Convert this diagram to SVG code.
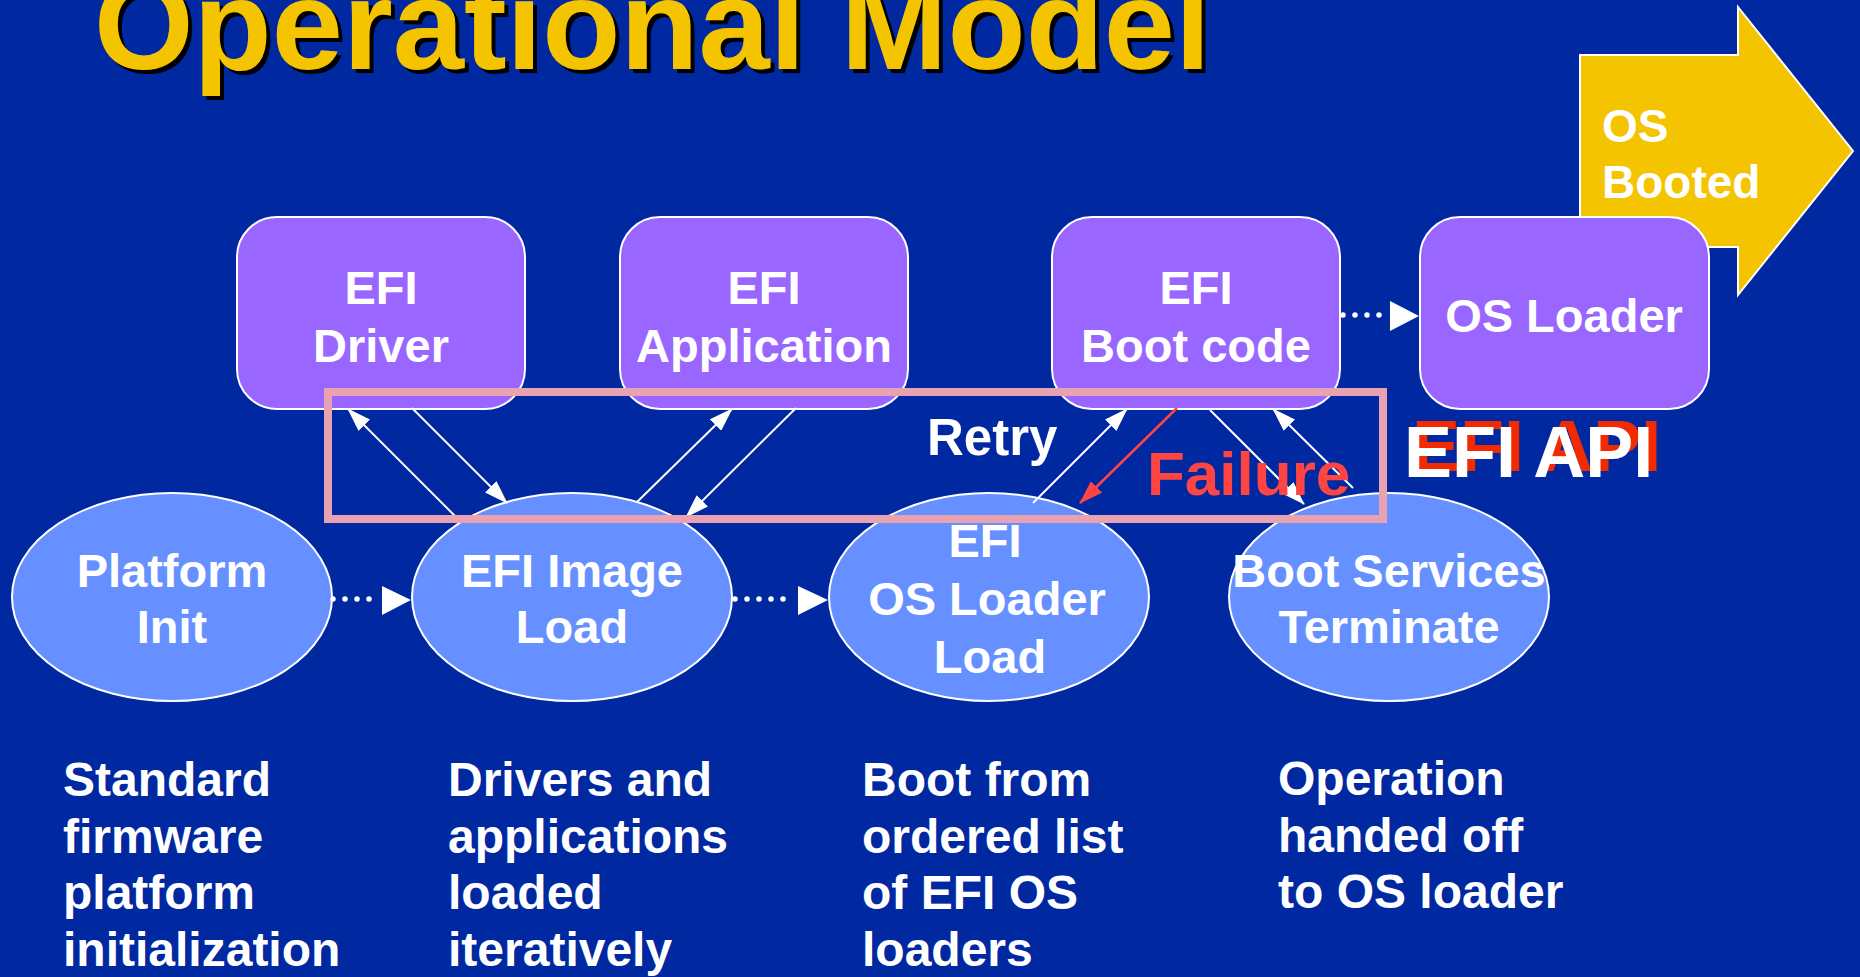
<svg xmlns="http://www.w3.org/2000/svg" width="1860" height="977" viewBox="0 0 1860 977">
  <defs>
    <style>
      .t { font-family: "Liberation Sans", Arial, sans-serif; font-weight: bold; fill: #FFFFFF; }
      .lbl { font-size: 47px; text-anchor: middle; }
      .note { font-size: 48px; }
      .box { fill: #9966FF; stroke: #FFFFFF; stroke-width: 2; }
      .oval { fill: #6690FF; stroke: #FFFFFF; stroke-width: 2; }
      .link { stroke: #FFFFFF; stroke-width: 2; fill: none; }
      .dots { stroke: #FFFFFF; stroke-width: 5.5; stroke-linecap: round; stroke-dasharray: 0 12; fill: none; }
    </style>
    <marker id="head" markerUnits="userSpaceOnUse" viewBox="0 0 24 16" refX="23" refY="8" markerWidth="24" markerHeight="16" orient="auto">
      <path d="M0,0 L24,8 L0,16 Z" fill="#FFFFFF"/>
    </marker>
    <marker id="headRed" markerUnits="userSpaceOnUse" viewBox="0 0 24 16" refX="23" refY="8" markerWidth="24" markerHeight="16" orient="auto">
      <path d="M0,0 L24,8 L0,16 Z" fill="#FF4444"/>
    </marker>
  </defs>

  <rect width="1860" height="977" fill="#0028A0"/>

  <!-- title with drop shadow -->
  <g id="title">
    <text x="98" y="73" font-family="Liberation Sans, Arial, sans-serif" font-weight="bold" font-size="128" fill="#000000">Operational Model</text>
    <text x="94" y="69" font-family="Liberation Sans, Arial, sans-serif" font-weight="bold" font-size="128" fill="#F5C400">Operational Model</text>
  </g>

  <!-- big block arrow behind the OS Loader box -->
  <g id="os-booted">
    <polygon points="1580,55 1738,55 1738,7 1853,151 1738,295 1738,247 1580,247" fill="#F5C400" stroke="#FFFFFF" stroke-width="2"/>
    <text class="t" x="1602" y="142" font-size="46">OS</text>
    <text class="t" x="1602" y="198" font-size="46">Booted</text>
  </g>

  <!-- upper row: EFI components -->
  <g id="efi-driver">
    <rect class="box" x="237" y="217" width="288" height="192" rx="40" ry="40"/>
    <text class="t lbl" x="381" y="304">EFI</text>
    <text class="t lbl" x="381" y="362">Driver</text>
  </g>
  <g id="efi-application">
    <rect class="box" x="620" y="217" width="288" height="192" rx="40" ry="40"/>
    <text class="t lbl" x="764" y="304">EFI</text>
    <text class="t lbl" x="764" y="362">Application</text>
  </g>
  <g id="efi-boot-code">
    <rect class="box" x="1052" y="217" width="288" height="192" rx="40" ry="40"/>
    <text class="t lbl" x="1196" y="304">EFI</text>
    <text class="t lbl" x="1196" y="362">Boot code</text>
  </g>
  <g id="os-loader">
    <rect class="box" x="1420" y="217" width="289" height="192" rx="40" ry="40"/>
    <text class="t lbl" x="1564" y="332">OS Loader</text>
  </g>

  <!-- lower row: boot phases -->
  <g id="platform-init">
    <ellipse class="oval" cx="172" cy="597" rx="160" ry="104"/>
    <text class="t lbl" x="172" y="587">Platform</text>
    <text class="t lbl" x="172" y="643">Init</text>
  </g>
  <g id="efi-image-load">
    <ellipse class="oval" cx="572" cy="597" rx="160" ry="104"/>
    <text class="t lbl" x="572" y="587">EFI Image</text>
    <text class="t lbl" x="572" y="643">Load</text>
  </g>
  <g id="efi-os-loader-load">
    <ellipse class="oval" cx="989" cy="597" rx="160" ry="104"/>
    <text class="t lbl" x="985" y="557">EFI</text>
    <text class="t lbl" x="987" y="615">OS Loader</text>
    <text class="t lbl" x="990" y="673">Load</text>
  </g>
  <g id="boot-services-terminate">
    <ellipse class="oval" cx="1389" cy="597" rx="160" ry="104"/>
    <text class="t lbl" x="1389" y="587">Boot Services</text>
    <text class="t lbl" x="1389" y="643">Terminate</text>
  </g>

  <!-- connectors -->
  <g id="connectors">
    <!-- dotted flow arrows -->
    <line class="dots" x1="333" y1="599" x2="381" y2="599"/>
    <polygon points="382,586 411,600 382,615" fill="#FFFFFF"/>
    <line class="dots" x1="735" y1="599" x2="795" y2="599"/>
    <polygon points="798,586 828,600 798,615" fill="#FFFFFF"/>
    <line class="dots" x1="1343" y1="315" x2="1388" y2="315"/>
    <polygon points="1390,301 1419,316 1390,331" fill="#FFFFFF"/>

    <!-- API calls -->
    <line class="link" x1="457" y1="518" x2="348" y2="409" marker-end="url(#head)"/>
    <line class="link" x1="412" y1="408" x2="507" y2="503" marker-end="url(#head)"/>
    <line class="link" x1="637" y1="502" x2="732" y2="409" marker-end="url(#head)"/>
    <line class="link" x1="796" y1="408" x2="686" y2="517" marker-end="url(#head)"/>
    <line class="link" x1="1033" y1="503" x2="1127" y2="409" marker-end="url(#head)"/>
    <line x1="1177" y1="408" x2="1080" y2="503" stroke="#FF4444" stroke-width="2.5" marker-end="url(#headRed)"/>
    <line class="link" x1="1210" y1="410" x2="1304" y2="504" marker-end="url(#head)"/>
    <line class="link" x1="1353" y1="488" x2="1273" y2="409" marker-end="url(#head)"/>
  </g>

  <!-- EFI API boundary -->
  <g id="api-boundary">
    <rect x="328" y="392" width="1055" height="127" fill="none" stroke="#E9A3B0" stroke-width="8"/>
    <text class="t" x="927" y="455" font-size="51">Retry</text>
    <text x="1147" y="495" font-family="Liberation Sans, Arial, sans-serif" font-weight="bold" font-size="62" fill="#FF4444">Failure</text>
    <text x="1412" y="471" font-family="Liberation Sans, Arial, sans-serif" font-weight="bold" font-size="72" fill="#F22A00">EFI API</text>
    <text class="t" x="1404" y="477" font-size="72">EFI API</text>
  </g>

  <!-- phase descriptions -->
  <g id="notes">
    <text class="t note" x="63" y="796">Standard</text>
    <text class="t note" x="63" y="853">firmware</text>
    <text class="t note" x="63" y="909">platform</text>
    <text class="t note" x="63" y="966">initialization</text>

    <text class="t note" x="448" y="796">Drivers and</text>
    <text class="t note" x="448" y="853">applications</text>
    <text class="t note" x="448" y="909">loaded</text>
    <text class="t note" x="448" y="966">iteratively</text>

    <text class="t note" x="862" y="796">Boot from</text>
    <text class="t note" x="862" y="853">ordered list</text>
    <text class="t note" x="862" y="909">of EFI OS</text>
    <text class="t note" x="862" y="966">loaders</text>

    <text class="t note" x="1278" y="795">Operation</text>
    <text class="t note" x="1278" y="852">handed off</text>
    <text class="t note" x="1278" y="908">to OS loader</text>
  </g>
</svg>
